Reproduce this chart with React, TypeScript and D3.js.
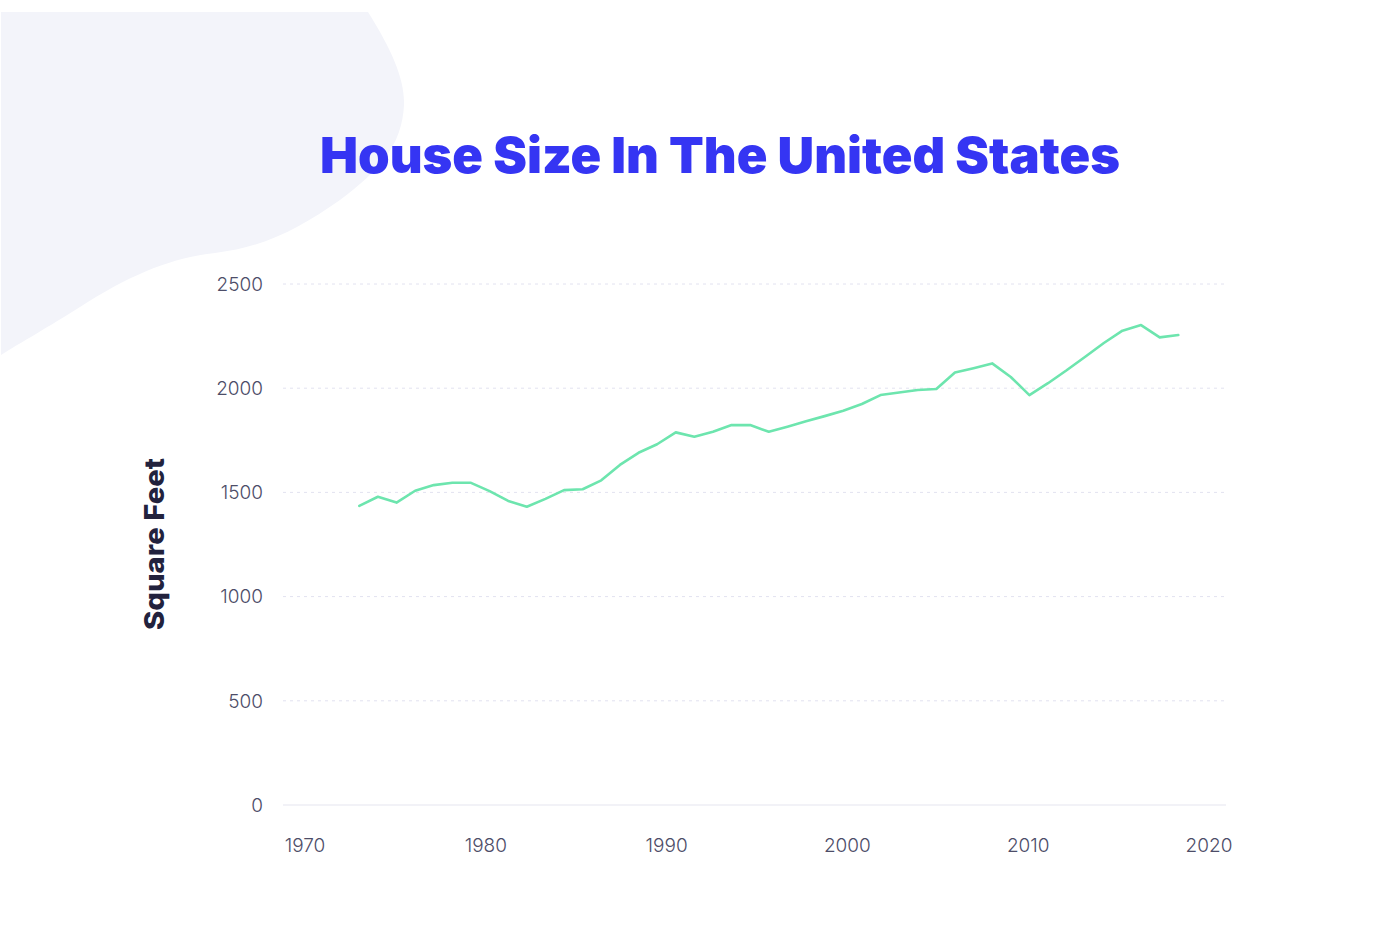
import React from "react";
import * as d3 from "d3";

const years: number[] = [
  1973, 1974, 1975, 1976, 1977, 1978, 1979, 1980, 1981, 1982,
  1983, 1984, 1985, 1986, 1987, 1988, 1989, 1990, 1991, 1992,
  1993, 1994, 1995, 1996, 1997, 1998, 1999, 2000, 2001, 2002,
  2003, 2004, 2005, 2006, 2007, 2008, 2009, 2010, 2011, 2012,
  2013, 2014, 2015, 2016, 2017,
];
const squareFeet: number[] = [
  1435, 1479, 1451, 1508, 1535, 1546, 1546, 1506, 1459, 1431,
  1469, 1511, 1515, 1558, 1632, 1690, 1731, 1788, 1767, 1791,
  1823, 1823, 1791, 1815, 1841, 1866, 1892, 1924, 1967, 1979,
  1991, 1996, 2075, 2096, 2119, 2054, 1967, 2024, 2086, 2151,
  2217, 2276, 2303, 2244, 2255,
];
const yTicks: number[] = [0, 500, 1000, 1500, 2000, 2500];
const xTickLabels: number[] = [1970, 1980, 1990, 2000, 2010, 2020];

const TITLE = "House Size In The United States";
const Y_LABEL = "Square Feet";

export default function App() {
  const W = 1376;
  const H = 928;
  const y = d3.scaleLinear().domain([0, 2500]).range([805, 284]);
  const xData = d3.scaleLinear().domain([1973, 2017]).range([359.3, 1178.3]);
  const xAxis = d3.scaleLinear().domain([1970, 2020]).range([305, 1209]);
  const gridX0 = 283;
  const gridX1 = 1226;

  const line = d3
    .line<number>()
    .x((_, i) => xData(years[i]))
    .y((d) => y(d))
    .curve(d3.curveLinear);

  const tickFont = "Inter, 'Open Sans', sans-serif";

  return (
    <svg
      width={W}
      height={H}
      style={{ position: "absolute", left: 0, top: 0, display: "block", background: "#ffffff" }}
    >
      <path
        d="M1,12 H368 C392,50 405,80 404,105 C402,145 380,170 340,200 C300,228 265,247 215,253 C170,258 130,275 80,307 C50,326 20,343 1,355 Z"
        fill="#f3f4fa"
      />
      <text
        x={720}
        y={173}
        textAnchor="middle"
        fontFamily="Inter, 'Open Sans', sans-serif"
        fontWeight={900}
        fontSize={50}
        fill="#3535f3"
        textLength={800}
        lengthAdjust="spacingAndGlyphs"
      >
        {TITLE}
      </text>

      {yTicks.map((t) =>
        t === 0 ? (
          <line key={t} x1={gridX0} x2={gridX1} y1={y(t)} y2={y(t)} stroke="#e6e6f0" strokeWidth={1.2} />
        ) : (
          <line
            key={t}
            x1={gridX0}
            x2={gridX1}
            y1={y(t)}
            y2={y(t)}
            stroke="#e2e2f0"
            strokeWidth={1}
            strokeDasharray="3,4"
          />
        )
      )}

      {yTicks.map((t) => (
        <text
          key={"yl" + t}
          x={263}
          y={y(t)}
          dy="0.36em"
          textAnchor="end"
          fontFamily={tickFont}
          fontWeight={300}
          fontSize={19}
          fill="#4d4d68"
        >
          {t}
        </text>
      ))}

      {xTickLabels.map((t) => (
        <text
          key={"xl" + t}
          x={xAxis(t)}
          y={852}
          textAnchor="middle"
          fontFamily={tickFont}
          fontWeight={300}
          fontSize={19}
          fill="#4d4d68"
        >
          {t}
        </text>
      ))}

      <text
        transform={`translate(164,544) rotate(-90)`}
        textAnchor="middle"
        fontFamily="Inter, 'Open Sans', sans-serif"
        fontWeight={800}
        fontSize={27}
        fill="#22223d"
        textLength={172}
        lengthAdjust="spacingAndGlyphs"
      >
        {Y_LABEL}
      </text>

      <path
        d={line(squareFeet) || ""}
        fill="none"
        stroke="#6de5ae"
        strokeWidth={2.6}
        strokeLinejoin="round"
        strokeLinecap="round"
      />
    </svg>
  );
}
